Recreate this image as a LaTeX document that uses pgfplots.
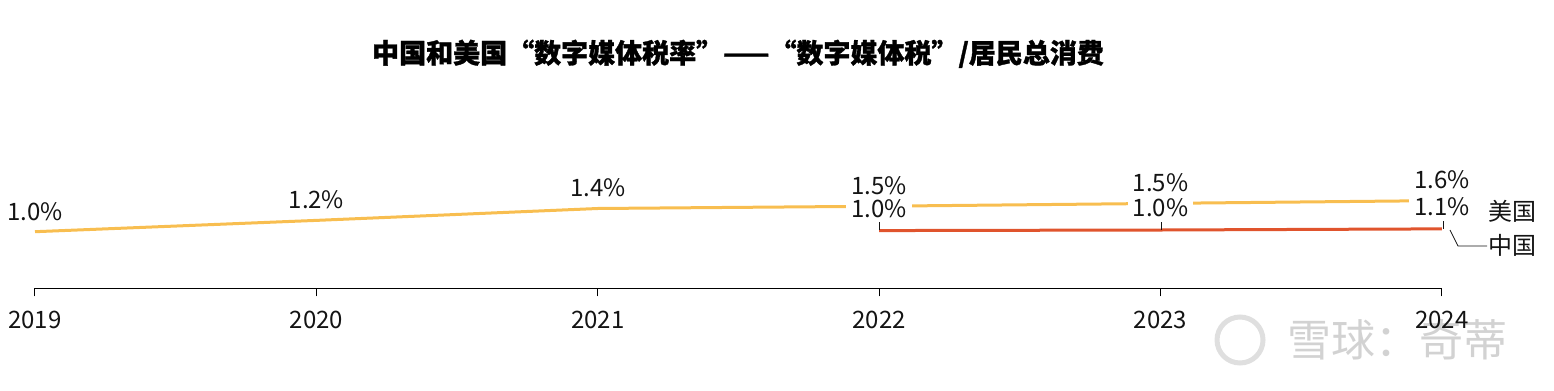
\documentclass[border=0pt]{standalone}
\usepackage{fontspec}
\setmainfont{Noto Sans CJK SC}
\usepackage{pgfplots}
\pgfplotsset{compat=1.18}
\definecolor{us}{RGB}{248,190,80}
\definecolor{cn}{RGB}{224,84,45}
\definecolor{txt}{RGB}{20,20,20}
\pgfplotstableread{
x y lab
2019 1.00 1.0\%
2020 1.20 1.2\%
2021 1.41 1.4\%
2022 1.45 1.5\%
2023 1.50 1.5\%
2024 1.55 1.6\%
}\usdata
\pgfplotstableread{
x y lab
2022 1.02 1.0\%
2023 1.03 1.0\%
2024 1.05 1.1\%
}\cndata
\newcommand{\lblfont}{\fontsize{24bp}{28bp}\selectfont}
\begin{document}
\begin{tikzpicture}[x=1bp,y=1bp]
\useasboundingbox (-35,-101.7) rectangle (1519,288.3);
% watermark
\draw[gray!25, line width=5bp] (1205,-51.7) circle (23);
\node[text=gray!35, font=\fontsize{44bp}{48bp}\selectfont] at (1362,-51.7) {雪球：奇蒂};
% title
\node[font=\bfseries\fontsize{27bp}{31bp}\selectfont\addfontfeature{FakeBold=1.2}, text=black] at (703,234.5) {中国和美国“数字媒体税率”——“数字媒体税”/居民总消费};
\begin{axis}[
  at={(0,0)}, anchor=south west, scale only axis,
  width=1407bp, height=90.56bp,
  xmin=2019, xmax=2024, ymin=0, ymax=1.6,
  axis x line=bottom, axis y line=none,
  x axis line style={-, line width=1bp, black},
  xtick={2019,2020,2021,2022,2023,2024},
  xticklabels={2019,2020,2021,2022,2023,2024},
  tick align=outside, major tick length=8bp,
  xtick style={black, line width=1bp},
  xticklabel style={font=\lblfont, text=txt, anchor=center, yshift=-24bp},
  clip=false,
]
\addplot[us, line width=3bp, mark=none,
  nodes near coords, point meta=explicit symbolic,
  every node near coord/.style={anchor=center, yshift=20.5bp, text=txt, font=\lblfont, inner sep=1bp}]
  table[x=x, y=y, meta=lab] {\usdata};
\addplot[cn, line width=3bp, mark=none,
  nodes near coords, point meta=explicit symbolic,
  every node near coord/.style={anchor=center, yshift=22bp, text=txt, font=\lblfont, fill=white, inner xsep=5bp, inner ysep=1bp}]
  table[x=x, y=y, meta=lab] {\cndata};
\end{axis}
% leader ticks from China labels
\draw[txt, line width=0.8bp] (844,58.3) -- (844,66.3);
\draw[txt, line width=0.8bp] (1126,58.3) -- (1126,66.3);
\draw[txt, line width=0.8bp] (1408,59.3) -- (1408,67.3);
% series names
\draw[txt, line width=0.8bp] (1415,58.3) -- (1423,42.3) -- (1452,42.3);
\node[text=txt, font=\lblfont] at (1477,77.3) {美国};
\node[text=txt, font=\lblfont] at (1477,43.3) {中国};
\end{tikzpicture}
\end{document}
